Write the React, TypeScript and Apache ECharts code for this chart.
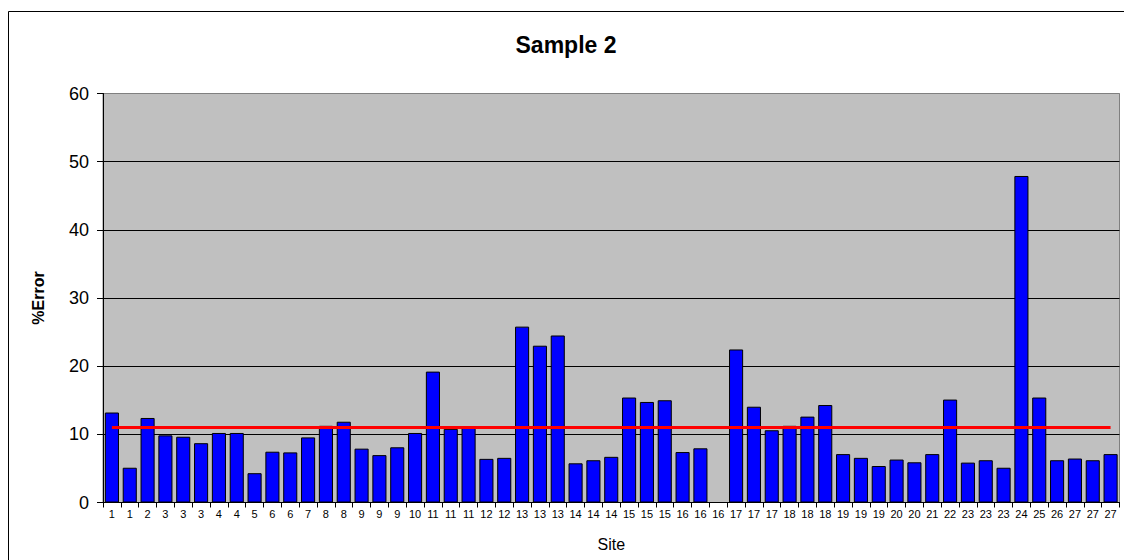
import React, { useEffect, useRef } from "react";
import * as echarts from "echarts";

const siteLabels = [
  "1", "1", "2", "3", "3", "3", "4", "4", "5", "6", "6", "7", "8", "8",
  "9", "9", "9", "10", "11", "11", "11", "12", "12", "13", "13", "13", "14", "14",
  "14", "15", "15", "15", "16", "16", "16", "17", "17", "17", "18", "18", "18", "19",
  "19", "19", "20", "20", "21", "22", "23", "23", "23", "24", "25", "26", "27", "27", "27",
];

const errorValues: (number | null)[] = [
  13.2, 5.1, 12.4, 9.85, 9.65, 8.7, 10.2, 10.2, 4.3, 7.45, 7.35, 9.55, 11.25, 11.85,
  7.9, 6.95, 8.1, 10.2, 19.2, 10.8, 11.2, 6.4, 6.55, 25.8, 23.0, 24.5, 5.75, 6.2,
  6.7, 15.4, 14.75, 15.0, 7.4, 7.95, null, 22.45, 14.05, 10.6, 11.25, 12.6, 14.3, 7.1,
  6.55, 5.35, 6.3, 5.9, 7.1, 15.1, 5.85, 6.2, 5.1, 47.9, 15.4, 6.2, 6.45, 6.2, 7.1,
];

const averageError = 11.1;
const yTicks = { min: 0, max: 60, interval: 10 };

const FONT = "'Liberation Sans', Arial, sans-serif";

export default function App() {
  const ref = useRef<HTMLDivElement>(null);

  useEffect(() => {
    if (!ref.current) return;
    document.documentElement.style.overflow = "hidden";
    const chart = echarts.init(ref.current, null, { renderer: "svg" });
    chart.setOption({
      animation: false,
      backgroundColor: "#ffffff",
      textStyle: { fontFamily: FONT },
      title: {
        text: "Sample 2",
        left: "center",
        top: 20,
        textStyle: { fontFamily: FONT, fontSize: 23, fontWeight: "bold", color: "#000" },
      },
      graphic: [
        {
          type: "rect",
          shape: { x: 0.5, y: 3.5, width: 1300, height: 700 },
          style: { fill: "none", stroke: "#000", lineWidth: 1 },
          silent: true,
          z: 100,
        },
      ],
      grid: {
        left: 95,
        top: 85.5,
        width: 1016.5,
        height: 409,
        show: true,
        backgroundColor: "#C0C0C0",
        borderColor: "#808080",
        borderWidth: 1,
      },
      xAxis: {
        type: "category",
        data: siteLabels,
        boundaryGap: true,
        name: "Site",
        nameLocation: "middle",
        nameGap: 34,
        nameTextStyle: { fontFamily: FONT, fontSize: 16, color: "#000" },
        axisLine: { show: true, lineStyle: { color: "#000", width: 1 } },
        axisTick: { show: true, alignWithLabel: false, interval: 0, length: 5, lineStyle: { color: "#000" } },
        axisLabel: { interval: 0, fontSize: 11, color: "#000", margin: 6, fontFamily: FONT },
        splitLine: { show: false },
      },
      yAxis: {
        type: "value",
        min: yTicks.min,
        max: yTicks.max,
        interval: yTicks.interval,
        name: "%Error",
        nameLocation: "middle",
        nameGap: 57,
        nameTextStyle: { fontFamily: FONT, fontSize: 16, fontWeight: "bold", color: "#000" },
        axisLine: { show: true, lineStyle: { color: "#000", width: 1 } },
        axisTick: { show: true, inside: false, length: 6, lineStyle: { color: "#000" } },
        axisLabel: { fontSize: 18, color: "#000", margin: 14, fontFamily: FONT },
        splitLine: {
          show: true,
          lineStyle: {
            color: ["#000", "#000", "#000", "#000", "#000", "#000", "#808080"],
            width: 1,
          },
        },
      },
      series: [
        {
          type: "bar",
          data: errorValues,
          barCategoryGap: "21%",
          itemStyle: { color: "#0000FF", borderColor: "#000", borderWidth: 1 },
          markLine: {
            silent: true,
            symbol: "none",
            label: { show: false },
            lineStyle: { color: "#FF0000", width: 3, type: "solid" },
            data: [
              [
                { coord: [0, averageError] },
                { coord: [siteLabels.length - 1, averageError] },
              ],
            ],
          },
        },
      ],
    });
    return () => chart.dispose();
  }, []);

  return (
    <div
      ref={ref}
      style={{ position: "fixed", left: 8, top: 8, width: 1116, height: 552 }}
    />
  );
}
